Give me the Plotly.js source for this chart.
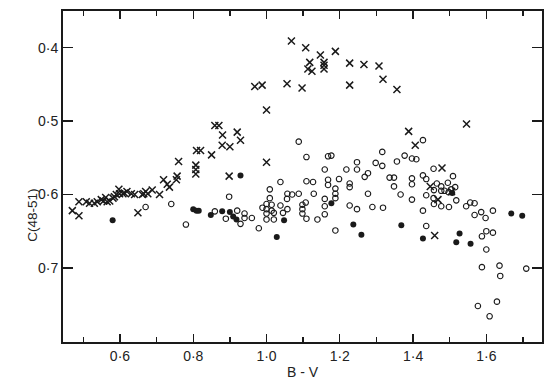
<!DOCTYPE html>
<html>
<head>
<meta charset="utf-8">
<script src="https://cdn.plot.ly/plotly-3.0.1.min.js"></script>
<style>html,body{margin:0;padding:0;background:#fff;}#chart{width:560px;height:388px;}</style>
</head>
<body>
<div id="chart"></div>
<script>
// Stars marked "x"
const crossX = [0.470,0.488,0.488,0.508,0.517,0.530,0.538,0.549,0.555,0.561,0.565,0.572,0.581,0.585,0.590,0.597,0.599,0.608,0.612,0.619,0.631,0.640,0.649,0.661,0.665,0.670,0.676,0.688,0.708,0.719,0.729,0.735,0.754,0.756,0.760,
  0.807,0.807,0.807,0.809,0.820,0.850,0.859,0.870,0.880,0.879,0.900,0.920,0.929,0.898,0.968,0.988,1.000,1.000,
  1.068,1.107,1.147,1.188,1.118,1.113,1.124,1.157,1.157,1.157,1.227,1.266,1.307,1.318,1.356,1.056,1.097,1.227,
  1.388,1.406,1.546,1.479,1.447,1.468,1.459,1.505];
const crossY = [0.622,0.629,0.610,0.610,0.612,0.612,0.610,0.607,0.609,0.604,0.610,0.609,0.605,0.603,0.600,0.593,0.599,0.599,0.598,0.596,0.599,0.600,0.625,0.600,0.599,0.596,0.599,0.594,0.600,0.580,0.586,0.590,0.580,0.575,0.555,
  0.560,0.566,0.572,0.540,0.540,0.546,0.506,0.506,0.519,0.533,0.535,0.515,0.526,0.575,0.453,0.451,0.485,0.556,
  0.391,0.400,0.410,0.405,0.420,0.429,0.432,0.420,0.424,0.429,0.421,0.423,0.425,0.443,0.457,0.449,0.455,0.451,
  0.514,0.533,0.504,0.564,0.589,0.607,0.656,0.596];

// Stars marked with open circles
const openX = [0.670,0.740,0.780,0.859,0.889,0.898,0.920,0.929,0.940,0.940,0.960,0.979,
  0.989,1.000,1.000,1.000,1.000,1.009,1.009,1.014,1.014,1.020,1.020,1.038,1.057,1.070,1.056,1.038,1.057,1.045,
  1.088,1.109,1.168,1.177,1.316,1.247,1.247,1.298,1.316,1.356,1.159,1.218,1.277,1.268,1.198,1.168,1.168,1.109,1.127,1.227,1.227,1.336,1.348,1.348,1.088,1.129,1.188,1.188,1.188,1.159,1.277,1.366,1.098,1.107,1.098,1.098,1.109,1.139,1.159,1.159,1.188,1.227,1.247,1.289,1.318,
  1.377,1.397,1.409,1.427,1.456,1.397,1.397,1.427,1.436,1.465,1.477,1.495,1.509,1.515,1.504,1.497,1.486,1.477,1.457,1.457,1.477,1.498,1.518,1.436,1.397,1.427,1.436,1.545,1.556,1.568,1.568,1.586,1.598,1.618,1.588,1.600,1.618,1.600,1.588,1.636,1.638,1.709,1.577,1.629,1.609,1.456];
const openY = [0.617,0.613,0.641,0.623,0.633,0.603,0.622,0.640,0.626,0.632,0.632,0.646,
  0.618,0.613,0.620,0.626,0.634,0.593,0.605,0.614,0.622,0.625,0.634,0.583,0.599,0.600,0.606,0.615,0.620,0.625,
  0.528,0.549,0.548,0.547,0.542,0.556,0.566,0.557,0.561,0.555,0.566,0.566,0.571,0.576,0.579,0.580,0.587,0.582,0.583,0.585,0.590,0.577,0.577,0.589,0.599,0.599,0.592,0.599,0.605,0.606,0.599,0.600,0.614,0.611,0.620,0.626,0.633,0.634,0.616,0.627,0.649,0.615,0.620,0.617,0.618,
  0.547,0.551,0.552,0.526,0.565,0.578,0.586,0.574,0.579,0.585,0.589,0.584,0.575,0.590,0.593,0.597,0.595,0.595,0.594,0.613,0.616,0.617,0.608,0.601,0.607,0.622,0.643,0.616,0.611,0.612,0.628,0.624,0.632,0.622,0.657,0.650,0.652,0.675,0.699,0.697,0.711,0.701,0.752,0.746,0.766,0.605];

// Stars marked with filled circles
const filledX = [0.580,0.800,0.809,0.815,0.848,0.879,0.900,0.909,0.918,0.929,1.028,1.048,1.177,1.237,1.259,1.368,1.427,1.507,1.518,1.527,1.557,1.668,1.698];
const filledY = [0.635,0.620,0.622,0.622,0.628,0.623,0.624,0.630,0.634,0.574,0.658,0.635,0.612,0.641,0.655,0.642,0.660,0.598,0.665,0.653,0.667,0.626,0.629];

const xTickVals = [0.6,0.8,1.0,1.2,1.4,1.6];
const xTickText = ['0·6','0·8','1·0','1·2','1·4','1·6'];
const xMinorVals = [0.5,0.7,0.9,1.1,1.3,1.5,1.7];
const yTickVals = [0.4,0.5,0.6,0.7];
const yTickText = ['0·4','0·5','0·6','0·7'];

const ink = '#1a1a1a';
const traces = [
  {x: openX, y: openY, type:'scatter', mode:'markers',
   marker:{symbol:'circle-open', size:5.5, color:ink, line:{width:1.1, color:ink}}},
  {x: filledX, y: filledY, type:'scatter', mode:'markers',
   marker:{symbol:'circle', size:6, color:ink, line:{width:0}}},
  {x: crossX, y: crossY, type:'scatter', mode:'markers',
   marker:{symbol:'x-thin-open', size:7, color:ink, line:{width:1.5, color:ink}}}
];

const font = {family:'Liberation Sans, Arial, sans-serif', size:14, color:'#222'};
const layout = {
  width:560, height:388,
  margin:{l:63, r:18, t:11, b:46},
  showlegend:false,
  paper_bgcolor:'#fff', plot_bgcolor:'#fff',
  font: font,
  xaxis:{range:[0.4445,1.752], showgrid:false, zeroline:false,
    showline:true, linecolor:ink, linewidth:2, mirror:'ticks',
    ticks:'inside', ticklen:8, tickwidth:1.4, tickcolor:ink,
    tickvals:xTickVals, ticktext:xTickText, tickfont:font,
    minor:{tickvals:xMinorVals, ticks:'inside', ticklen:5, tickwidth:1.4, tickcolor:ink},
    title:{text:'B - V', font:font, standoff:4}},
  yaxis:{range:[0.801,0.35], showgrid:false, zeroline:false,
    showline:true, linecolor:ink, linewidth:2, mirror:'ticks',
    ticks:'inside', ticklen:10, tickwidth:1.4, tickcolor:ink,
    tickvals:yTickVals, ticktext:yTickText, tickfont:font},
  annotations:[{text:'C(48-51)', textangle:-90, xref:'paper', yref:'paper',
    x:-0.0836, y:0.383, showarrow:false, font:{family:font.family, size:13.5, color:'#222'}}]
};
Plotly.newPlot('chart', traces, layout, {displayModeBar:false, staticPlot:true});
</script>
</body>
</html>
